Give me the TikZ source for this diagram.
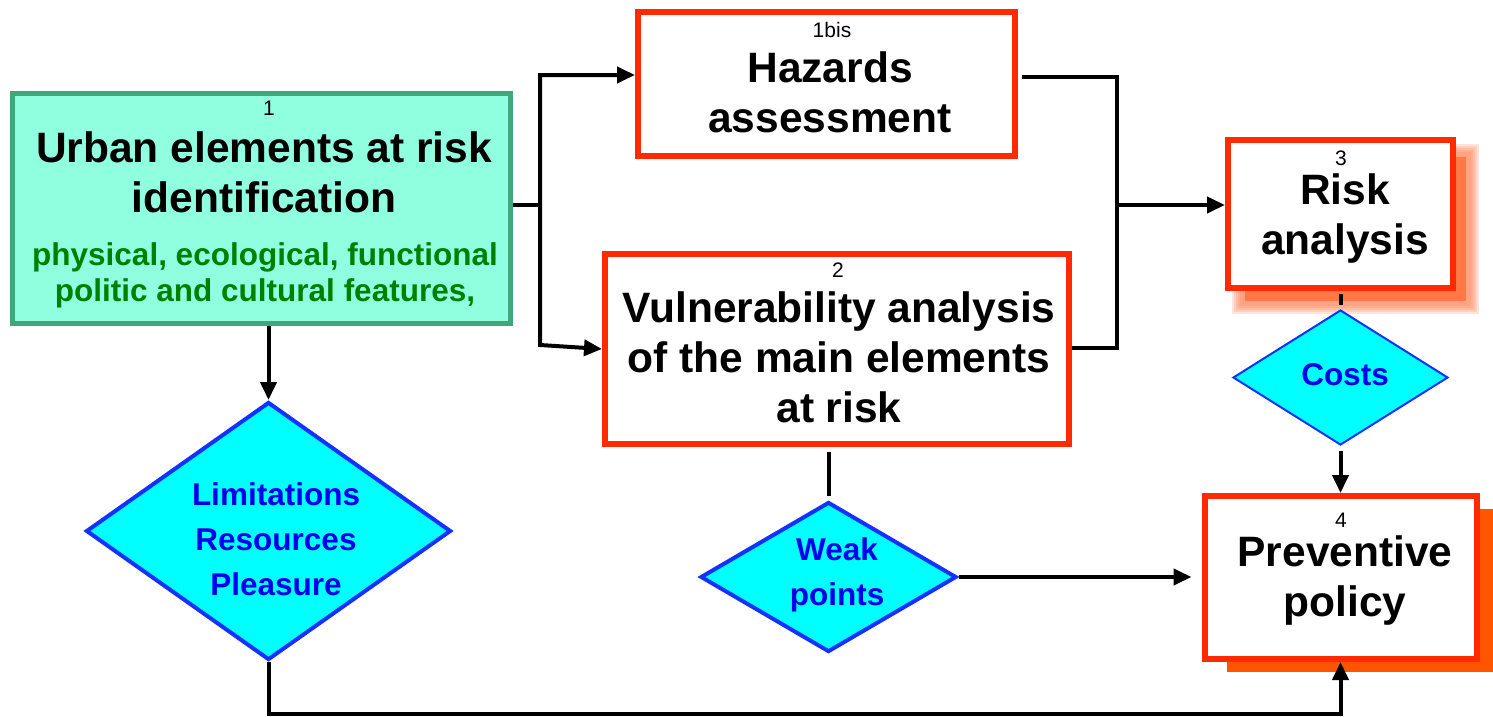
\documentclass[tikz,border=0pt]{standalone}
\usepackage{fontspec}
\setmainfont{Liberation Sans}
\usetikzlibrary{shapes.geometric,arrows.meta}
\definecolor{boxgreen}{RGB}{143,255,224}
\definecolor{edgegreen}{RGB}{64,168,120}
\definecolor{txtgreen}{RGB}{0,128,0}
\definecolor{boxred}{RGB}{255,42,0}
\definecolor{dcyan}{RGB}{0,255,255}
\definecolor{dblue}{RGB}{20,50,255}
\definecolor{txtblue}{RGB}{0,0,235}
\definecolor{shadoworange}{RGB}{255,85,0}
\definecolor{softorange}{RGB}{255,120,70}
\begin{document}
\begin{tikzpicture}[x=1pt,y=-1pt,
  redbox/.style={draw=boxred, fill=white, line width=6pt, rectangle, inner sep=0pt},
  greenbox/.style={draw=edgegreen, fill=boxgreen, line width=5pt, rectangle, inner sep=0pt},
  decision/.style={diamond, draw=dblue, fill=dcyan, line width=4pt, inner sep=0pt},
  num/.style={font=\fontsize{21}{24}\selectfont},
  title/.style={font=\fontsize{42.5}{50}\selectfont\bfseries, align=center},
  sub/.style={font=\fontsize{31.5}{36}\selectfont\bfseries, align=center, text=txtgreen},
  dtext/.style={font=\fontsize{31.5}{45}\selectfont\bfseries, align=center, text=txtblue},
  conn/.style={line width=4pt, draw=black},
  tip/.tip={Triangle[length=18pt,width=16pt]},
  arr/.style={conn, -tip},
]
\useasboundingbox (0,0) rectangle (1493,717);

% shadows
\foreach \k in {9,7,5,3,1}{
  \fill[softorange, opacity=0.2] (1241-\k,153-\k) rectangle (1470+\k,305+\k);
}
\fill[softorange] (1245,157) rectangle (1466,301);
\fill[shadoworange] (1227,509) rectangle (1493,672);

% boxes
\node[greenbox, minimum width=498pt, minimum height=230pt] (b1) at (261.5,208.5) {};
\node[redbox, minimum width=377pt, minimum height=144pt] (haz) at (826.5,84) {};
\node[redbox, minimum width=464pt, minimum height=190pt] (vul) at (837,349) {};
\node[redbox, minimum width=225pt, minimum height=148pt] (risk) at (1340.5,214) {};
\node[redbox, minimum width=272pt, minimum height=163pt] (prev) at (1340.5,577.5) {};

% decisions
\node[decision, minimum width=365pt, minimum height=258pt] (lim) at (268.5,531) {};
\node[decision, minimum width=256pt, minimum height=150pt] (weak) at (828.5,577) {};
\node[decision, line width=2pt, minimum width=215pt, minimum height=135pt] (costs) at (1340.5,377.5) {};

% texts
\node[num] (n1) at (269,108) {1};
\node[title] (t1) at (264,172) {Urban elements at risk\\identification};
\node[sub] (s1) at (265,275) {physical, ecological, functional\\politic and cultural features,};

\node[num] (n1b) at (832,30) {1bis};
\node[title] (thaz) at (830,92) {Hazards\\assessment};

\node[num] (n2) at (838,270) {2};
\node[title] (tvul) at (839,357) {Vulnerability analysis\\of the main elements\\at risk};

\node[num] (n3) at (1341,158) {3};
\node[title] (trisk) at (1345,219) {Risk\\analysis};

\node[num] (n4) at (1341,520) {4};
\node[title] (tprev) at (1345,581) {Preventive\\policy};

\node[dtext] (tlim) at (276,539) {Limitations\\Resources\\Pleasure};
\node[dtext] (tweak) at (837,575) {Weak\\points};
\node[dtext] (tcosts) at (1345,375) {Costs};

% connectors
\coordinate (jL) at (540,205);
\coordinate (jLt) at (540,75);
\coordinate (jLb) at (540,345);
\coordinate (jRt) at (1117,77);
\coordinate (jRm) at (1117,205);
\coordinate (jRb) at (1117,348);
\coordinate (bot) at (0,714);

\draw[conn] (b1.east |- jL) -- (jL);
\draw[conn, tip-tip] (vul.west) -- (jLb) -- (jLt) -- (haz.west |- jLt);
\draw[conn, shorten <=4pt] (haz.east |- jRt) -- (jRt) -- (jRb) -- (vul.east |- jRb);
\draw[arr] (jRm) -- (risk.west |- jRm);
\draw[arr] (lim.north |- b1.south) -- (lim.north);
\draw[arr] (lim.south) -- (lim.south |- bot) -- (prev.south |- bot) -- (prev.south);
\draw[conn, shorten <=5pt, shorten >=4pt] (weak.north |- vul.south) -- (weak.north);
\draw[arr, shorten >=10pt] (weak.east) -- (prev.west |- weak.east);
\draw[conn, shorten <=3pt, shorten >=4pt] (risk.south) -- (costs.north);
\draw[arr, shorten <=5pt] (costs.south) -- (prev.north);
\end{tikzpicture}
\end{document}
